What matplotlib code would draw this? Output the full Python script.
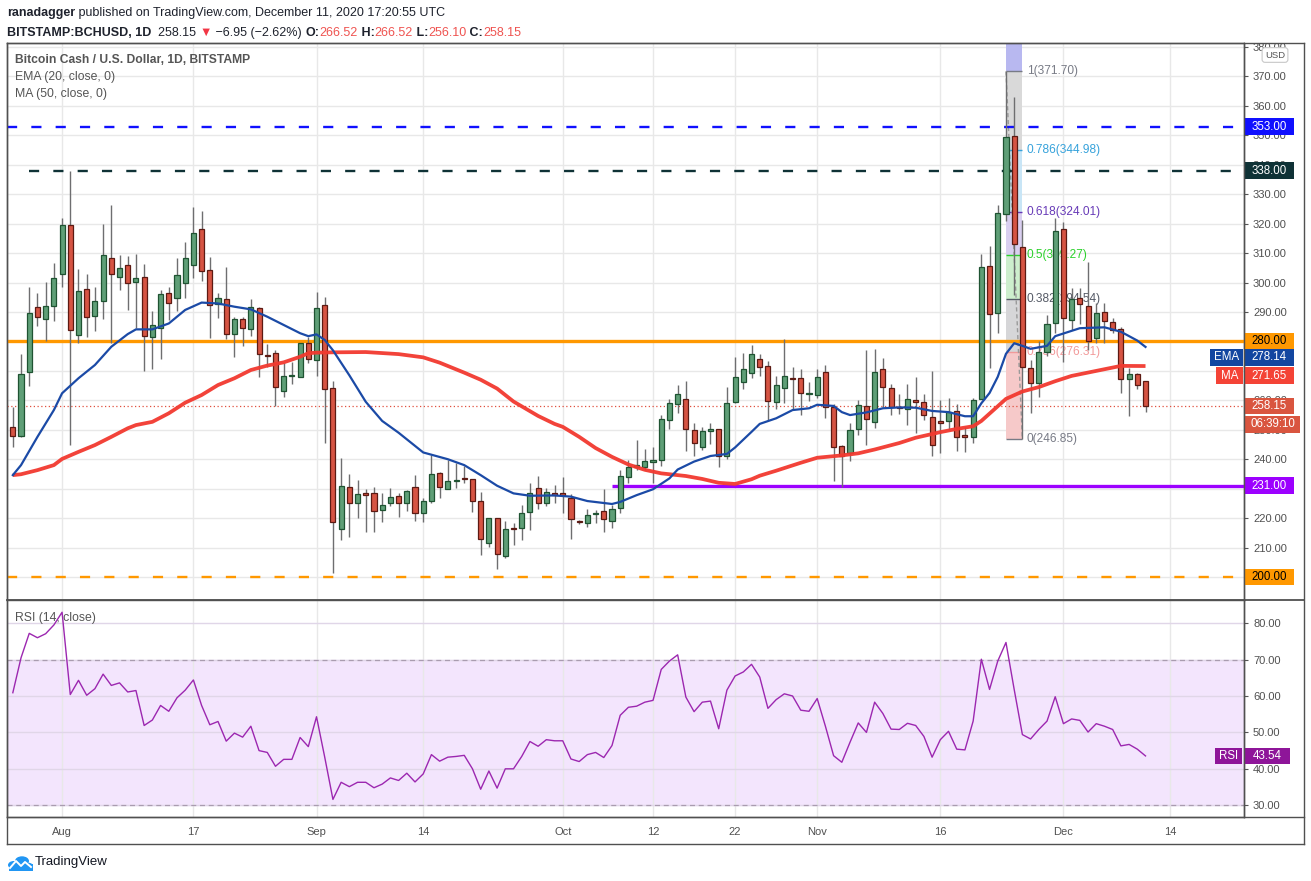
import numpy as np
import pandas as pd
import matplotlib
matplotlib.use('Agg')
import matplotlib.pyplot as plt
import matplotlib.dates as mdates
from matplotlib.patches import Rectangle, Circle
from matplotlib.lines import Line2D
from matplotlib.ticker import FuncFormatter
from matplotlib.transforms import blended_transform_factory

plt.rcParams['font.family'] = ['Liberation Sans', 'DejaVu Sans']

W, H = 1311, 881

# ---- daily candles, BCH/USD Bitstamp, from 2020-07-26
start = '2020-07-26'
opens = [250.8, 247.9, 269.5, 291.6, 287.5, 292.2, 302.8, 319.7, 282.1, 297.7,
         288.5, 293.6, 308.5, 302.0, 305.8, 300.1, 301.8, 281.4, 284.4, 296.3,
         294.6, 299.7, 306.0, 318.1, 304.1, 292.6, 294.3, 282.6, 287.5, 284.1,
         291.2, 275.5, 276.0, 263.1, 268.2, 267.8, 279.4, 273.6, 292.3, 264.1,
         216.2, 230.5, 225.0, 228.4, 228.6, 222.6, 225.2, 227.6, 225.0, 230.4,
         221.9, 225.7, 235.2, 229.8, 232.6, 233.6, 233.2, 225.8, 211.4, 219.9,
         207.2, 216.8, 216.8, 222.2, 230.1, 225.0, 228.5, 228.3, 226.7, 219.0,
         218.2, 221.3, 222.3, 219.1, 223.3, 234.1, 237.5, 237.5, 238.9, 239.6,
         253.2, 258.6, 260.3, 249.8, 244.0, 249.6, 250.1, 241.1, 259.4, 266.3,
         269.2, 273.9, 271.6, 259.3, 264.1, 267.7, 267.5, 262.1, 261.7, 269.5,
         257.6, 244.5, 242.2, 250.1, 258.1, 252.7, 270.8, 264.1, 257.8, 256.9,
         260.0, 259.3, 254.5, 253.0, 253.1, 256.4, 248.3, 247.7, 260.3, 305.5,
         289.5, 323.3, 349.9, 312.0, 270.9, 266.0, 276.5, 286.1, 318.1, 287.3,
         294.6, 292.0, 281.1, 290.1, 286.7, 284.1, 267.2, 268.8, 266.52]
highs = [257.8, 275.7, 298.6, 296.5, 300.2, 306.7, 321.8, 337.9, 304.6, 302.9,
         298.5, 319.9, 326.3, 309.2, 308.9, 309.7, 306.2, 290.3, 297.4, 298.6,
         308.5, 313.8, 325.7, 324.3, 308.7, 296.4, 305.3, 288.4, 288.4, 294.4,
         291.6, 279.1, 277.1, 272.6, 273.1, 279.4, 281.6, 296.8, 295.1, 266.6,
         240.5, 235.0, 233.0, 229.9, 230.7, 228.4, 230.1, 228.4, 229.5, 234.6,
         226.7, 241.6, 235.8, 239.7, 238.6, 237.7, 233.2, 229.0, 220.2, 219.9,
         219.0, 218.2, 224.4, 232.0, 234.3, 230.1, 231.1, 234.1, 228.2, 219.4,
         223.1, 222.7, 229.8, 224.6, 236.3, 239.7, 246.5, 243.5, 244.0, 255.0,
         260.4, 265.2, 266.6, 252.2, 250.8, 252.2, 250.1, 264.4, 274.6, 276.0,
         278.8, 275.7, 273.3, 268.2, 280.7, 271.2, 270.5, 266.2, 270.5, 272.0,
         258.7, 244.8, 252.2, 260.1, 277.1, 277.6, 274.3, 265.5, 262.0, 265.5,
         267.8, 262.1, 269.9, 260.1, 260.7, 258.9, 251.0, 260.7, 309.7, 312.4,
         326.3, 371.7, 362.9, 321.3, 273.7, 280.0, 289.0, 321.8, 320.7, 298.0,
         298.0, 307.1, 293.0, 293.0, 287.9, 285.0, 270.9, 269.4, 266.52]
lows = [244.2, 247.4, 265.0, 285.3, 280.1, 287.0, 298.6, 244.8, 279.6, 281.6,
        283.6, 287.7, 279.6, 297.5, 290.7, 284.4, 270.1, 270.6, 274.0, 287.3,
        290.4, 294.6, 301.4, 300.6, 281.3, 288.1, 280.9, 274.8, 278.6, 281.9,
        268.0, 271.4, 258.1, 261.3, 265.5, 267.8, 272.8, 268.4, 245.6, 201.5,
        212.4, 213.7, 219.9, 215.4, 215.4, 218.8, 224.1, 220.5, 222.5, 219.1,
        218.8, 225.0, 226.8, 229.8, 230.2, 232.0, 222.2, 207.5, 210.3, 202.8,
        206.5, 210.8, 212.5, 215.9, 223.1, 224.1, 225.2, 221.6, 212.8, 218.0,
        216.9, 218.4, 215.4, 216.5, 221.6, 232.0, 236.3, 236.3, 231.8, 237.7,
        250.1, 255.8, 242.9, 241.1, 243.1, 245.2, 237.5, 240.1, 259.2, 263.8,
        267.7, 268.2, 253.3, 257.0, 259.2, 256.7, 255.1, 259.9, 260.9, 254.1,
        232.7, 230.7, 239.5, 248.2, 244.8, 250.7, 257.8, 255.0, 255.3, 251.6,
        249.0, 253.3, 241.1, 242.2, 249.9, 242.9, 242.6, 245.4, 260.3, 270.9,
        283.0, 321.0, 295.8, 246.85, 255.8, 261.0, 274.9, 282.8, 273.1, 283.9,
        285.8, 277.1, 279.4, 279.4, 282.8, 262.6, 254.7, 263.8, 256.10]
closes = [247.9, 268.8, 289.5, 288.2, 292.0, 301.4, 319.7, 283.8, 297.0, 288.2,
          293.9, 309.2, 302.8, 305.1, 299.9, 301.4, 281.7, 285.5, 296.0, 292.9,
          302.4, 308.2, 317.0, 303.8, 292.3, 294.6, 282.4, 287.5, 284.5, 291.6,
          275.6, 275.0, 264.6, 268.1, 268.5, 279.4, 273.9, 291.2, 263.7, 218.6,
          230.8, 225.0, 228.1, 227.9, 222.3, 224.3, 227.3, 225.2, 229.1, 221.9,
          225.7, 235.0, 230.7, 232.5, 232.9, 233.3, 225.9, 212.8, 220.2, 207.7,
          216.2, 216.2, 221.6, 228.4, 225.2, 228.7, 228.0, 228.0, 219.6, 218.6,
          220.9, 221.6, 219.6, 223.0, 234.3, 237.3, 237.8, 239.3, 239.7, 253.5,
          259.0, 262.0, 250.1, 245.4, 249.5, 250.1, 241.1, 259.0, 267.8, 270.5,
          275.6, 271.4, 259.9, 265.2, 268.2, 267.3, 262.4, 262.2, 267.8, 257.6,
          244.3, 241.2, 249.9, 258.3, 253.8, 269.5, 264.6, 257.6, 257.4, 260.3,
          259.3, 254.9, 244.7, 252.2, 255.9, 247.6, 247.5, 260.1, 305.2, 289.2,
          323.5, 349.3, 313.1, 271.2, 265.8, 276.5, 285.9, 317.5, 287.9, 294.3,
          292.6, 280.2, 289.8, 287.0, 283.9, 267.2, 268.8, 265.2, 258.15]

rsi = [60.9, 70.5, 77.2, 76.0, 77.1, 79.5, 83.0, 60.4, 64.3, 60.2,
       62.0, 66.0, 62.9, 63.6, 61.1, 61.5, 51.9, 53.4, 57.4, 55.8,
       59.5, 61.6, 64.4, 57.4, 52.1, 53.0, 47.6, 49.8, 48.7, 51.7,
       45.0, 44.5, 40.7, 42.6, 42.6, 48.6, 46.1, 54.3, 43.2, 31.6,
       36.3, 35.1, 36.3, 36.3, 34.8, 35.8, 37.5, 36.8, 38.8, 36.4,
       38.6, 43.9, 42.1, 43.2, 43.4, 43.7, 40.0, 34.4, 39.4, 34.7,
       40.0, 40.0, 43.4, 47.5, 46.2, 48.0, 47.7, 47.7, 42.7, 42.0,
       43.9, 44.5, 43.1, 46.4, 54.7, 56.9, 57.2, 58.3, 58.8, 67.3,
       69.6, 71.3, 59.7, 55.7, 58.3, 58.6, 51.0, 61.6, 65.5, 66.6,
       68.7, 65.2, 56.6, 59.0, 60.6, 60.0, 56.1, 55.8, 59.3, 51.7,
       43.6, 41.8, 47.3, 52.6, 50.0, 58.3, 55.2, 50.9, 50.8, 52.5,
       51.9, 48.9, 43.2, 48.0, 50.3, 45.4, 45.2, 53.1, 70.1, 61.8,
       69.6, 74.7, 61.8, 49.4, 48.2, 50.8, 53.1, 59.8, 52.4, 53.7,
       53.3, 50.1, 52.4, 51.7, 50.8, 46.3, 46.7, 45.4, 43.54]

# EMA 20 / MA 50 (day offset from start, value)
ema_day = [0, 1, 3, 5, 6, 8, 10, 12, 14, 15, 17, 19, 21, 23, 25, 27, 29, 31, 33, 35,
           36, 37, 38, 39, 41, 43, 45, 47, 50, 53, 55, 57, 59, 61, 63, 66, 68, 70, 73, 74,
           76, 78, 80, 81, 83, 85, 87, 88, 90, 91, 93, 95, 97, 98, 100, 101, 102, 104, 106, 108,
           110, 112, 114, 116, 117, 118, 119, 120, 121, 122, 123, 124, 126, 127, 130, 133, 135, 137, 138]
ema_val = [234.6, 238.0, 247.6, 256.7, 262.4, 267.5, 272.0, 278.2, 282.5, 284.1,
           284.1, 286.1, 290.7, 293.2, 292.9, 291.8, 290.9, 288.4, 285.6, 282.8,
           281.8, 282.4, 280.5, 277.0, 268.5, 259.5, 253.0, 249.0, 242.3, 240.0,
           238.0, 234.6, 231.0, 228.4, 227.6, 227.7, 227.3, 225.8, 224.8, 225.5,
           227.8, 229.8, 233.5, 236.5, 239.2, 241.1, 241.8, 244.0, 249.3, 252.0,
           253.9, 256.7, 257.3, 258.5, 258.1, 256.0, 255.0, 255.9, 257.3, 257.6,
           257.5, 256.4, 256.0, 254.6, 254.6, 259.0, 262.5, 268.0, 275.8, 279.4,
           278.5, 277.5, 278.5, 281.8, 284.5, 284.8, 283.3, 280.3, 278.14]
ma_day = [0, 1, 3, 5, 6, 8, 10, 12, 14, 15, 17, 19, 21, 23, 25, 27, 29, 31, 33, 35,
          36, 37, 39, 43, 47, 50, 52, 55, 57, 59, 61, 64, 66, 67, 69, 71, 73, 75, 77, 79,
          82, 84, 86, 88, 90, 91, 93, 96, 98, 101, 103, 105, 108, 110, 113, 115, 117, 118, 119, 121,
          123, 125, 127, 129, 132, 135, 138]
ma_val = [234.6, 234.9, 236.3, 238.0, 240.1, 242.5, 244.8, 247.6, 250.5, 251.6,
          252.7, 255.6, 259.2, 261.8, 265.2, 267.5, 270.3, 271.8, 272.9, 274.8,
          276.0, 276.2, 276.3, 276.4, 275.7, 274.6, 272.8, 269.4, 267.0, 264.0,
          259.6, 254.7, 252.0, 251.0, 247.6, 243.8, 240.8, 238.2, 236.4, 235.2,
          234.3, 233.3, 232.0, 231.6, 233.2, 234.4, 236.1, 238.8, 240.5, 241.3,
          242.0, 243.3, 245.5, 247.3, 249.2, 250.3, 251.2, 253.0, 255.5, 260.5,
          263.0, 264.5, 266.5, 268.3, 270.0, 271.7, 271.65]

# horizontal levels drawn by the author
hl_price = [353.0, 338.0, 280.0, 231.0, 200.0]
hl_from = [None, '2020-07-28', None, '2020-10-07', None]
hl_color = ['#1010ff', '#0f3236', '#ff9800', '#9c00ff', '#ff9800']
hl_dashed = [True, True, False, False, True]
hl_text = ['white', 'white', 'black', 'white', 'black']

# fibonacci retracement
fib_from, fib_to = '2020-11-24', '2020-11-26'
fib_ratio = ['0', '0.236', '0.382', '0.5', '0.618', '0.786', '1']
fib_price = [246.85, 276.31, 294.54, 309.27, 324.01, 344.98, 371.70]
fib_text_col = ['#787b86', '#f29a9a', '#555a66', '#2bd12b', '#673ab7', '#36a2db', '#787b86']
fib_band_col = ['#f6c9c9', '#d6d6d8', '#cdeecd', '#d9cff0', '#c8e5f6', '#d9d9d9', '#b8b8f0']

tick_dates = ['2020-08-01', '2020-08-17', '2020-09-01', '2020-09-14', '2020-10-01',
              '2020-10-12', '2020-10-22', '2020-11-01', '2020-11-16', '2020-12-01', '2020-12-14']
tick_labels = ['Aug', '17', 'Sep', '14', 'Oct', '12', '22', 'Nov', '16', 'Dec', '14']
hidden_ticks = [200, 230, 270, 280]   # covered by the level tags on the price scale

# ---------------------------------------------------------------
dates = pd.date_range(start, periods=len(closes), freq='D')
x = mdates.date2num(dates)
x0 = x[0]
o = np.array(opens); c = np.array(closes)
hi = np.array(highs); lo = np.array(lows)

fig = plt.figure(figsize=(W / 100, H / 100), dpi=100)
fig.patch.set_facecolor('white')

def fx(px):
    return px / W

def fy(py):
    return 1 - py / H

ax = fig.add_axes([fx(7), fy(600), fx(1244) - fx(7), fy(43) - fy(600)])
axr = fig.add_axes([fx(7), fy(817), fx(1244) - fx(7), fy(600) - fy(817)])

xlim = (x0 - 0.71, x0 + 150.0)
tick_x = mdates.date2num(pd.to_datetime(tick_dates))
grid_c = '#e8e8e8'
frame_c = '#505050'

for a in (ax, axr):
    a.set_xlim(*xlim)
    a.set_xticks(tick_x)
    a.set_axisbelow(True)
    a.grid(True, color=grid_c, lw=1)
    a.yaxis.tick_right()
    a.tick_params(axis='y', length=3, width=0.8, color='#555555', labelcolor='#505050',
                  labelsize=8, pad=3.5)
    for s in a.spines.values():
        s.set_color(frame_c)
        s.set_linewidth(1)

ax.yaxis.set_major_formatter(
    FuncFormatter(lambda v, p: '' if round(v) in hidden_ticks else f'{v:.2f}'))
axr.yaxis.set_major_formatter(FuncFormatter(lambda v, p: f'{v:.2f}'))

ax.set_ylim(192.19, 381.36)
ax.set_yticks(np.arange(200, 381, 10))
ax.tick_params(axis='x', labelbottom=False, length=0)

# candles
up = c >= o
body_lo = np.minimum(o, c)
body_h = np.maximum(np.abs(c - o), 0.45)
ax.vlines(x, lo, hi, color='#6e6e70', lw=1, zorder=3)
ax.bar(x[up], body_h[up], width=0.62, bottom=body_lo[up], color='#5f9f77',
       edgecolor='#1f5332', lw=0.9, zorder=4)
ax.bar(x[~up], body_h[~up], width=0.62, bottom=body_lo[~up], color='#d65443',
       edgecolor='#5c1a13', lw=0.9, zorder=4)

# moving averages
ax.plot(x0 + np.array(ma_day), ma_val, color='#f2392f', lw=2.7, alpha=0.95,
        solid_capstyle='butt', zorder=5)
ax.plot(x0 + np.array(ema_day), ema_val, color='#1b4aa6', lw=1.6, zorder=6)

# horizontal levels
for p, f, col, d in zip(hl_price, hl_from, hl_color, hl_dashed):
    xs = xlim[0] if f is None else mdates.date2num(pd.Timestamp(f))
    ax.hlines(p, xs, xlim[1], color=col, lw=1.7 if d else 2.4,
              linestyles=(0, (4.3, 6.0)) if d else 'solid', zorder=2.8)

# last price line
ax.axhline(closes[-1], color='#e0503f', lw=0.9, ls=(0, (1, 2)), zorder=2.7)

# fibonacci retracement
fa = mdates.date2num(pd.Timestamp(fib_from))
fb = mdates.date2num(pd.Timestamp(fib_to))
bounds = fib_price + [400.0]
for k in range(len(fib_price)):
    ax.add_patch(Rectangle((fa, bounds[k]), fb - fa, bounds[k + 1] - bounds[k],
                           fc=fib_band_col[k], ec='none', zorder=1.5))
ax.hlines(fib_price, fa, fb, colors=fib_text_col, lw=1, zorder=1.6)
ax.plot([fa, fb], [fib_price[-1], fib_price[0]], color='#9a9a9a', lw=1,
        ls=(0, (3, 2)), zorder=1.7)
for r, p, col in zip(fib_ratio, fib_price, fib_text_col):
    ax.annotate(f'{r}({p:.2f})', xy=(fb, p), xytext=(3, 0), textcoords='offset points',
                va='center', ha='left', color=col, fontsize=8.6, zorder=1.8)

# RSI panel
axr.set_ylim(26.77, 86.36)
axr.set_yticks(np.arange(30, 81, 10))
axr.axhspan(30, 70, color='#f3e5fd', zorder=0.2)
axr.grid(True, axis='y', color='#e0d6e8', lw=1)
for lv in (30, 70):
    axr.axhline(lv, color='#a99caf', lw=0.9, ls=(0, (4, 3)), zorder=1)
axr.plot(x, rsi, color='#9c27b0', lw=1.0, zorder=5)
axr.set_xticklabels(tick_labels)
axr.tick_params(axis='x', length=0, pad=7, labelsize=8, labelcolor='#505050')

# tags on the price scales: fixed pixel boxes, text centred
axw = 1237.0

def tag(a, yy, s, fc, tc, x1=1244, x2=1294, dy=0, hpx=16.5):
    ylo, yhi = a.get_ylim()
    hpx_ax = a.get_position().height * H
    per_px = (yhi - ylo) / hpx_ax
    yc = yy + dy * per_px
    tr = blended_transform_factory(a.transAxes, a.transData)
    a.add_patch(Rectangle(((x1 - 7) / axw, yc - hpx / 2 * per_px), (x2 - x1) / axw,
                          hpx * per_px, transform=tr, fc=fc, ec='none', clip_on=False,
                          zorder=19))
    a.text(((x1 + x2) / 2 - 7) / axw, yc, s, transform=tr, ha='center', va='center',
           color=tc, fontsize=8.3, zorder=20, clip_on=False)

for p, col, tc in zip(hl_price, hl_color, hl_text):
    tag(ax, p, f'{p:.2f}', col, tc)
# TradingView pushes the EMA / MA tags down so they clear the 280 tag
tag(ax, ema_val[-1], f'{ema_val[-1]:.2f}', '#1346a0', 'white', dy=-10.5)
tag(ax, ema_val[-1], 'EMA', '#1346a0', 'white', x1=1210, x2=1243, dy=-10.5)
tag(ax, ma_val[-1], f'{ma_val[-1]:.2f}', '#f44336', 'white', dy=-9.5)
tag(ax, ma_val[-1], 'MA', '#f44336', 'white', x1=1216, x2=1243, dy=-9.5)
tag(ax, closes[-1], f'{closes[-1]:.2f}', '#d9553f', 'white')
tag(ax, closes[-1], '06:39:10', '#d9553f', 'white', x1=1245, x2=1300, dy=-18.5)
tag(axr, rsi[-1], f'{rsi[-1]:.2f}', '#8e1599', 'white', x2=1290)
tag(axr, rsi[-1], 'RSI', '#8e1599', 'white', x1=1215, x2=1242)

# cover the clipped top of the price scale, then the frame
fig.add_artist(Rectangle((fx(1244.5), fy(42.5)), 1 - fx(1244.5), 1 - fy(42.5),
                         transform=fig.transFigure, fc='white', ec='none', zorder=10))

def fline(x1, y1, x2, y2, lw=1.0):
    fig.add_artist(Line2D([fx(x1), fx(x2)], [fy(y1), fy(y2)], transform=fig.transFigure,
                          color=frame_c, lw=lw, zorder=11))

fline(7, 43, 1304, 43)
fline(1304, 43, 1304, 844)
fline(7, 844, 1304, 844)
fline(7, 43, 7, 844)
fline(7, 600, 1304, 600, lw=1.3)
fline(7, 817, 1304, 817)
fline(1244, 43, 1244, 817)

fig.text(fx(1275), fy(55), 'USD', fontsize=6.8, color='#555555', ha='center', va='center',
         zorder=12, bbox=dict(boxstyle='round,pad=0.3', fc='white', ec='#c8c8c8', lw=0.8))

# header lines
renderer = fig.canvas.get_renderer()

def run(px, py, pieces, size=9):
    cx = px
    for s, col, wt in pieces:
        t = fig.text(fx(cx), fy(py), s, color=col, fontweight=wt, fontsize=size,
                     ha='left', va='center')
        cx += t.get_window_extent(renderer).width

dark = '#1e222d'
red = '#ef5350'
run(7, 13, [('ranadagger', dark, 'bold'),
            (' published on TradingView.com, December 11, 2020 17:20:55 UTC', dark, 'normal')])
run(7, 33, [('BITSTAMP:BCHUSD, 1D', dark, 'bold'), ('  258.15 ', dark, 'normal'),
            ('\u25bc', '#f23645', 'normal'), (' \u22126.95 (\u22122.62%) ', dark, 'normal'),
            ('O:', dark, 'bold'), ('266.52', red, 'normal'),
            (' H:', dark, 'bold'), ('266.52', red, 'normal'),
            (' L:', dark, 'bold'), ('256.10', red, 'normal'),
            (' C:', dark, 'bold'), ('258.15', red, 'normal')])

fig.text(fx(15), fy(60), 'Bitcoin Cash / U.S. Dollar, 1D, BITSTAMP', fontsize=8.7,
         fontweight='bold', color='#555555', va='center')
fig.text(fx(15), fy(77), 'EMA (20, close, 0)', fontsize=8.8, color='#555555', va='center')
fig.text(fx(15), fy(94), 'MA (50, close, 0)', fontsize=8.8, color='#555555', va='center')
fig.text(fx(15), fy(618), 'RSI (14, close)', fontsize=8.8, color='#555555', va='center')

# TradingView logo
logo = '#2196f3'
for cxp, cyp, rp in [(14, 865, 6), (22, 861, 7), (28, 866, 5)]:
    fig.add_artist(Circle((fx(cxp), fy(cyp)), rp / W, transform=fig.transFigure,
                          fc=logo, ec='none'))
fig.add_artist(Rectangle((fx(9), fy(871)), fx(24), fy(864) - fy(871),
                         transform=fig.transFigure, fc=logo, ec='none'))
fig.add_artist(Line2D([fx(10), fx(16), fx(21), fx(25), fx(31)],
                      [fy(868), fy(861), fy(866), fy(862), fy(867)],
                      transform=fig.transFigure, color='white', lw=1.4))
fig.text(fx(35), fy(862), 'TradingView', fontsize=9.5, color='#131722', va='center')

fig.savefig('out.png', dpi=100)
